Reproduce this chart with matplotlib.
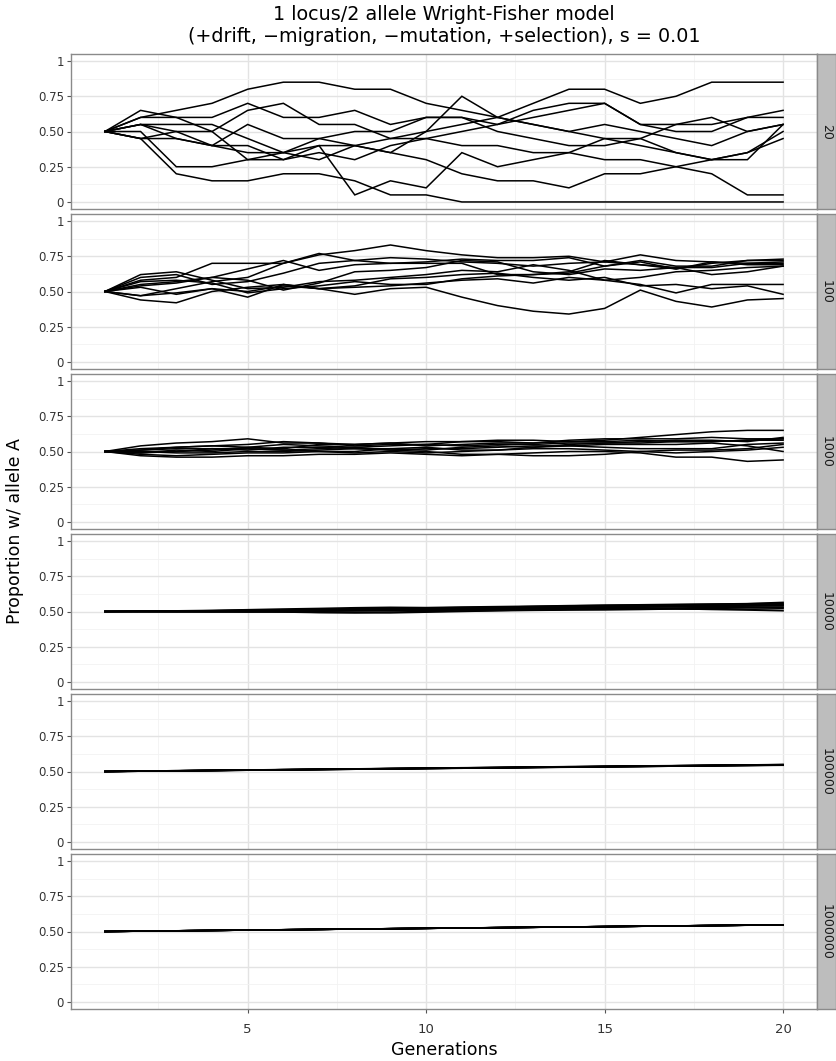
import matplotlib
matplotlib.use("Agg")
import matplotlib.pyplot as plt

# generations and population sizes (facet rows)
generations = list(range(1, 21))
pop_sizes = ["20", "100", "1000", "10000", "100000", "1000000"]

# ten replicate runs per population size
runs_20 = [
    [.50, .60, .65, .70, .80, .85, .85, .80, .80, .70, .65, .60, .55, .50, .55, .50, .45, .40, .50, .55],
    [.50, .45, .50, .50, .30, .35, .45, .40, .35, .50, .75, .60, .70, .80, .80, .70, .75, .85, .85, .85],
    [.50, .45, .20, .15, .15, .20, .20, .15, .05, .05, .00, .00, .00, .00, .00, .00, .00, .00, .00, .00],
    [.50, .50, .25, .25, .30, .30, .35, .30, .40, .45, .40, .40, .35, .35, .30, .30, .25, .20, .05, .05],
    [.50, .55, .50, .40, .40, .30, .40, .05, .15, .10, .35, .25, .30, .35, .45, .45, .35, .30, .35, .45],
    [.50, .45, .45, .40, .35, .35, .30, .40, .35, .30, .20, .15, .15, .10, .20, .20, .25, .30, .35, .50],
    [.50, .65, .60, .50, .65, .70, .55, .55, .45, .45, .50, .55, .65, .70, .70, .55, .55, .60, .50, .55],
    [.50, .60, .60, .60, .70, .60, .60, .65, .55, .60, .60, .55, .60, .65, .70, .55, .50, .50, .60, .60],
    [.50, .55, .45, .40, .55, .45, .45, .50, .50, .60, .60, .50, .45, .40, .40, .45, .55, .55, .60, .65],
    [.50, .55, .55, .55, .45, .35, .40, .40, .45, .50, .55, .60, .55, .50, .45, .40, .35, .30, .30, .55],
]
runs_100 = [
    [.50, .60, .62, .55, .57, .63, .70, .72, .74, .73, .71, .70, .68, .70, .71, .69, .66, .70, .72, .72],
    [.50, .55, .57, .60, .66, .72, .65, .69, .70, .71, .73, .72, .72, .74, .68, .72, .68, .68, .72, .73],
    [.50, .47, .52, .57, .60, .70, .76, .79, .83, .79, .76, .74, .74, .75, .71, .76, .72, .71, .70, .71],
    [.50, .58, .60, .70, .70, .70, .77, .72, .70, .70, .70, .62, .62, .64, .72, .69, .67, .67, .70, .70],
    [.50, .44, .42, .50, .53, .55, .52, .48, .52, .53, .46, .40, .36, .34, .38, .51, .43, .39, .44, .45],
    [.50, .47, .49, .52, .50, .54, .52, .53, .54, .56, .58, .59, .56, .60, .58, .55, .49, .55, .55, .55],
    [.50, .54, .56, .60, .58, .51, .56, .64, .65, .67, .72, .71, .64, .62, .66, .65, .67, .62, .64, .68],
    [.50, .57, .58, .56, .49, .52, .54, .57, .55, .55, .59, .61, .62, .63, .68, .71, .66, .71, .69, .69],
    [.50, .62, .64, .58, .52, .53, .57, .58, .60, .62, .65, .64, .69, .65, .58, .60, .64, .65, .67, .68],
    [.50, .53, .48, .52, .46, .55, .52, .54, .59, .60, .62, .63, .60, .58, .60, .54, .55, .52, .54, .48],
]
runs_1000 = [
    [.50, .54, .56, .57, .59, .56, .56, .55, .56, .57, .57, .58, .58, .57, .58, .60, .62, .64, .65, .65],
    [.50, .52, .53, .54, .55, .57, .56, .54, .55, .55, .57, .57, .56, .58, .59, .59, .59, .60, .59, .59],
    [.50, .49, .50, .51, .53, .52, .55, .55, .56, .54, .55, .56, .56, .57, .57, .58, .57, .57, .58, .59],
    [.50, .47, .46, .46, .47, .47, .48, .48, .49, .48, .47, .48, .49, .50, .50, .49, .46, .46, .43, .44],
    [.50, .51, .52, .52, .51, .53, .53, .52, .52, .51, .53, .54, .53, .55, .56, .56, .57, .57, .58, .58],
    [.50, .50, .49, .49, .50, .50, .51, .52, .51, .50, .48, .48, .47, .47, .48, .50, .49, .50, .51, .53],
    [.50, .48, .47, .48, .49, .49, .50, .49, .50, .49, .50, .51, .53, .54, .53, .52, .52, .52, .55, .56],
    [.50, .51, .53, .54, .53, .55, .54, .53, .54, .55, .54, .55, .55, .56, .56, .57, .58, .58, .57, .60],
    [.50, .50, .50, .52, .52, .51, .52, .53, .51, .52, .52, .53, .54, .54, .55, .55, .55, .56, .54, .50],
    [.50, .49, .51, .50, .52, .51, .50, .50, .52, .53, .51, .51, .52, .52, .51, .50, .51, .51, .52, .55],
]
runs_10000 = [
    [.500, .502, .505, .508, .513, .518, .522, .527, .530, .528, .532, .535, .538, .542, .545, .548, .551, .553, .556, .565],
    [.500, .503, .504, .503, .505, .508, .515, .520, .524, .525, .528, .530, .536, .540, .544, .546, .548, .552, .555, .558],
    [.500, .499, .500, .502, .499, .497, .494, .493, .496, .500, .503, .507, .512, .515, .520, .522, .525, .528, .530, .532],
    [.500, .501, .502, .500, .498, .496, .492, .490, .490, .495, .500, .505, .508, .510, .511, .514, .518, .515, .515, .520],
    [.500, .500, .501, .503, .506, .510, .512, .516, .519, .521, .524, .527, .530, .534, .536, .538, .540, .543, .544, .548],
    [.500, .498, .497, .496, .498, .501, .503, .505, .508, .510, .512, .513, .514, .516, .518, .517, .520, .522, .525, .527],
    [.500, .502, .503, .506, .510, .512, .516, .520, .519, .520, .522, .525, .527, .531, .535, .540, .543, .545, .548, .553],
    [.500, .501, .500, .501, .503, .504, .505, .507, .510, .512, .515, .519, .521, .523, .528, .530, .533, .535, .538, .540],
    [.500, .499, .498, .498, .497, .500, .502, .505, .505, .508, .510, .510, .513, .515, .516, .520, .518, .515, .510, .505],
    [.500, .502, .504, .505, .507, .509, .511, .513, .514, .518, .520, .524, .527, .526, .529, .532, .534, .537, .540, .545],
]
runs_100000 = [
    [.500, .503, .505, .508, .510, .512, .515, .517, .520, .522, .525, .527, .530, .532, .535, .537, .540, .542, .545, .547],
    [.500, .502, .505, .507, .510, .513, .515, .518, .520, .523, .525, .528, .530, .533, .536, .538, .541, .543, .546, .548],
    [.500, .503, .506, .508, .511, .513, .516, .518, .521, .523, .526, .528, .531, .534, .536, .539, .541, .544, .546, .549],
    [.500, .502, .504, .507, .509, .512, .514, .517, .519, .521, .524, .526, .529, .531, .534, .536, .539, .541, .543, .546],
    [.500, .503, .505, .507, .510, .512, .514, .516, .519, .521, .523, .526, .528, .531, .533, .535, .538, .540, .543, .545],
    [.500, .502, .505, .508, .511, .514, .516, .519, .522, .524, .527, .529, .532, .535, .537, .540, .542, .545, .547, .550],
    [.500, .503, .505, .507, .509, .511, .514, .516, .518, .521, .524, .526, .529, .532, .534, .537, .539, .542, .544, .546],
    [.500, .502, .505, .508, .510, .513, .515, .518, .520, .523, .525, .527, .530, .532, .535, .537, .540, .542, .545, .547],
    [.500, .503, .506, .508, .510, .513, .516, .518, .521, .524, .526, .529, .531, .533, .536, .538, .541, .543, .546, .548],
    [.500, .502, .504, .506, .509, .511, .513, .516, .518, .521, .523, .525, .528, .530, .533, .535, .538, .540, .542, .544],
]
runs_1000000 = [
    [.5000, .5025, .5050, .5075, .5100, .5124, .5149, .5174, .5199, .5224, .5249, .5274, .5298, .5323, .5348, .5373, .5397, .5422, .5447, .5471],
    [.5000, .5027, .5052, .5076, .5103, .5127, .5151, .5177, .5201, .5226, .5252, .5277, .5301, .5326, .5350, .5375, .5400, .5425, .5450, .5475],
    [.5000, .5023, .5048, .5073, .5097, .5122, .5146, .5171, .5196, .5221, .5246, .5270, .5295, .5320, .5344, .5369, .5394, .5418, .5443, .5467],
    [.5000, .5026, .5050, .5074, .5100, .5125, .5150, .5173, .5198, .5223, .5248, .5273, .5297, .5322, .5347, .5372, .5396, .5421, .5446, .5470],
    [.5000, .5024, .5049, .5076, .5101, .5124, .5148, .5175, .5200, .5225, .5250, .5275, .5300, .5324, .5349, .5374, .5399, .5424, .5448, .5473],
    [.5000, .5025, .5051, .5075, .5099, .5123, .5149, .5174, .5198, .5223, .5249, .5273, .5298, .5323, .5349, .5373, .5398, .5422, .5446, .5471],
    [.5000, .5026, .5050, .5075, .5101, .5126, .5150, .5175, .5200, .5226, .5251, .5275, .5299, .5324, .5349, .5374, .5398, .5423, .5448, .5472],
    [.5000, .5024, .5049, .5074, .5099, .5124, .5148, .5173, .5198, .5223, .5248, .5273, .5297, .5322, .5347, .5372, .5396, .5421, .5446, .5470],
    [.5000, .5025, .5050, .5075, .5100, .5125, .5150, .5175, .5200, .5224, .5249, .5274, .5299, .5324, .5348, .5373, .5398, .5423, .5447, .5472],
    [.5000, .5025, .5050, .5074, .5099, .5124, .5149, .5174, .5199, .5223, .5248, .5273, .5298, .5323, .5347, .5372, .5397, .5422, .5446, .5470],
]
all_runs = [runs_20, runs_100, runs_1000, runs_10000, runs_100000, runs_1000000]

y_ticks = [0, 0.25, 0.5, 0.75, 1]
y_labels = ["0", "0.25", "0.50", "0.75", "1"]
x_ticks = [5, 10, 15, 20]

W, H = 836, 1061
fig = plt.figure(figsize=(W / 100, H / 100), dpi=100)
plt.rcParams["font.family"] = "DejaVu Sans"

left, right = 71, 817
strip_w = 19
top0, ph, step = 54, 155, 160

for i, runs in enumerate(all_runs):
    top = top0 + i * step
    ax = fig.add_axes([left / W, 1 - (top + ph) / H, (right - left) / W, ph / H])
    for r in runs:
        ax.plot(generations, r, color="black", lw=1.1, solid_joinstyle="miter")
    ax.set_xlim(0.05, 20.95)
    ax.set_ylim(-0.05, 1.05)
    ax.set_yticks(y_ticks)
    ax.set_yticklabels(y_labels)
    ax.set_yticks([0.125, 0.375, 0.625, 0.875], minor=True)
    ax.set_xticks(x_ticks)
    ax.set_xticks([2.5, 7.5, 12.5, 17.5], minor=True)
    ax.grid(which="major", color="#e3e3e3", lw=1.0)
    ax.grid(which="minor", color="#f2f2f2", lw=0.6)
    ax.set_axisbelow(True)
    for s in ax.spines.values():
        s.set_color("#8a8a8a")
        s.set_linewidth(1.0)
    ax.tick_params(which="minor", length=0)
    ax.tick_params(which="major", length=3, color="#555555", width=0.8,
                   labelsize=8.5, labelcolor="#333333", pad=2)
    if i < len(all_runs) - 1:
        ax.tick_params(axis="x", length=0, labelbottom=False)
    else:
        ax.tick_params(axis="x", labelsize=9.5, pad=7)

    # facet strip on the right
    sax = fig.add_axes([right / W, 1 - (top + ph) / H, strip_w / W, ph / H])
    sax.set_facecolor("#bdbdbd")
    sax.set_xticks([])
    sax.set_yticks([])
    for s in sax.spines.values():
        s.set_color("#8a8a8a")
        s.set_linewidth(1.0)
    sax.text(0.5, 0.5, pop_sizes[i], rotation=-90, ha="center", va="center",
             fontsize=9, color="#1a1a1a", transform=sax.transAxes)

cx = (left + right) / 2 / W
fig.text(cx, 1 - 14 / H, "1 locus/2 allele Wright-Fisher model", ha="center", va="center", fontsize=13.8)
fig.text(cx, 1 - 37 / H, "(+drift, \u2212migration, \u2212mutation, +selection), s = 0.01",
         ha="center", va="center", fontsize=13.8)
fig.text(cx, 1 - 1050 / H, "Generations", ha="center", va="center", fontsize=12.5)
fig.text(15 / W, 1 - 531 / H, "Proportion w/ allele A", rotation=90, ha="center", va="center", fontsize=12.5)

fig.savefig("out.png", dpi=100)
